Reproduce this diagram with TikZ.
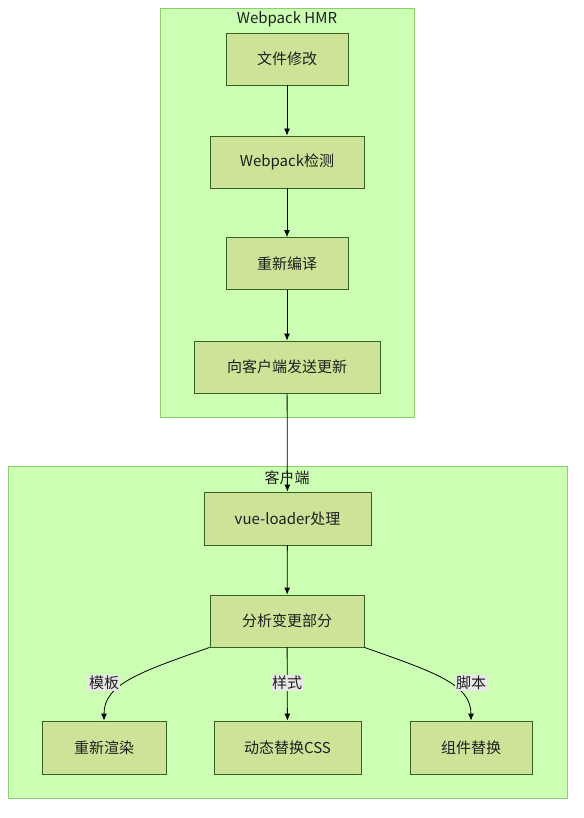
\documentclass[tikz,border=0pt]{standalone}
\usepackage{fontspec}
\setmainfont{Noto Sans CJK SC}
\usetikzlibrary{arrows.meta}
\definecolor{clfill}{RGB}{204,255,179}
\definecolor{cldraw}{RGB}{140,205,110}
\definecolor{ndfill}{RGB}{205,228,152}
\definecolor{nddraw}{RGB}{50,100,30}
\definecolor{lblfill}{RGB}{232,232,232}
\definecolor{txt}{RGB}{30,30,30}
\begin{document}
\begin{tikzpicture}[x=1pt,y=-1pt,
  cluster/.style={draw=cldraw,fill=clfill,line width=0.8pt},
  box/.style={draw=nddraw,fill=ndfill,line width=0.8pt,text=txt,font=\fontsize{15}{17}\selectfont,inner sep=0pt},
  ctitle/.style={text=txt,font=\fontsize{15}{17}\selectfont,inner sep=0pt},
  elabel/.style={fill=lblfill,text=txt,font=\fontsize{15}{17}\selectfont,inner sep=1pt},
  arr/.style={draw=black,line width=0.8pt,-{Latex[length=7pt,width=6pt]}}]
\useasboundingbox (0,0) rectangle (583,818);
\path[cluster] (160,8) rectangle (414,417);
\path[cluster] (8,466) rectangle (567,798);
\node[ctitle] (t1) at (287,19) {Webpack HMR};
\node[ctitle] (t2) at (287,478) {客户端};
\node[box,minimum width=122pt,minimum height=52pt] (a) at (287,59) {文件修改};
\node[box,minimum width=154pt,minimum height=52pt] (b) at (287,162) {Webpack检测};
\node[box,minimum width=122pt,minimum height=52pt] (c) at (287,263.5) {重新编译};
\node[box,minimum width=186pt,minimum height=52pt] (d) at (287,367) {向客户端发送更新};
\node[box,minimum width=167pt,minimum height=53pt] (e) at (287.5,518.5) {vue-loader处理};
\node[box,minimum width=154pt,minimum height=52pt] (f) at (287,621) {分析变更部分};
\node[box,minimum width=124pt,minimum height=53pt] (g) at (104,747.5) {重新渲染};
\node[box,minimum width=147pt,minimum height=53pt] (h) at (287.5,747.5) {动态替换CSS};
\node[box,minimum width=122pt,minimum height=53pt] (i) at (471,747.5) {组件替换};
\draw[arr] (a) -- (b);
\draw[arr] (b) -- (c);
\draw[arr] (c) -- (d);
\draw[arr] (d) -- (e);
\draw[arr] (e) -- (f);
\draw[arr] (f.south west) .. controls (140,672) and (104,684) .. (g.north);
\draw[arr] (f) -- (h);
\draw[arr] (f.south east) .. controls (434,672) and (471,684) .. (i.north);
\node[elabel] (l1) at (104,683) {模板};
\node[elabel] (l2) at (287,683) {样式};
\node[elabel] (l3) at (471,683) {脚本};
\end{tikzpicture}
\end{document}
